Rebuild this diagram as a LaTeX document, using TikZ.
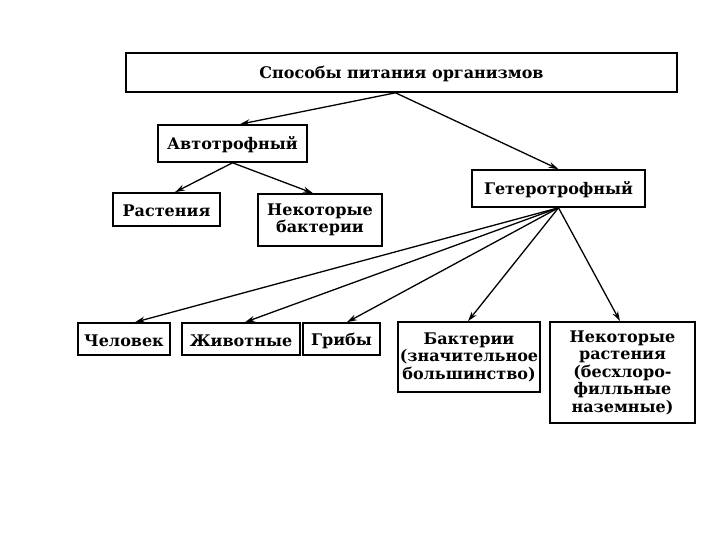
\documentclass[tikz,border=0pt]{standalone}
\usepackage{fontspec}
\setmainfont{DejaVu Serif}
\usetikzlibrary{arrows.meta,calc}
\newcommand\boxstrut{\rule[-1bp]{0pt}{16.5bp}}
\begin{document}
\begin{tikzpicture}[x=1bp,y=-1bp,
  box/.style={draw, line width=1.6bp, rectangle, inner sep=0pt, align=center,
    font=\bfseries\fontsize{16bp}{17.5bp}\selectfont,
    execute at begin node=\boxstrut, execute at end node=\boxstrut},
  arr/.style={-{Stealth[length=10bp,width=6bp]}, line width=1.3bp}]
\useasboundingbox (0,0) rectangle (720,540);
\node[box, minimum width=551bp, minimum height=39bp] (top) at (401.5,72.5) {Способы питания организмов};
\node[box, minimum width=149bp, minimum height=37bp] (auto) at (232.5,143.5) {Автотрофный};
\node[box, minimum width=173bp, minimum height=37bp] (het) at (558.5,188.5) {Гетеротрофный};
\node[box, minimum width=107bp, minimum height=33bp] (rast) at (166.5,209.5) {Растения};
\node[box, minimum width=124bp, minimum height=52bp] (nbakt) at (320,220) {Некоторые\\бактерии};
\node[box, minimum width=92bp, minimum height=32bp] (chel) at (124,339) {Человек};
\node[box, minimum width=118bp, minimum height=32bp] (zhiv) at (241,339) {Животные};
\node[box, minimum width=77bp, minimum height=32bp] (grib) at (341.5,339) {Грибы};
\node[box, minimum width=142bp, minimum height=70bp] (bakt) at (469,357) {Бактерии\\(значительное\\большинство)};
\node[box, minimum width=145bp, minimum height=101bp] (nrast) at (622.5,372.5) {Некоторые\\растения\\(бесхлоро-\\филльные\\наземные)};
\draw[arr] ([xshift=-6bp]top.south) -- ([xshift=7.5bp]auto.north);
\draw[arr] ([xshift=-6bp]top.south) -- (het.north);
\draw[arr] (auto.south) -- ([xshift=8.5bp]rast.north);
\draw[arr] (auto.south) -- ([xshift=-7bp]nbakt.north);
\draw[arr] (het.south) -- ([xshift=11bp]chel.north);
\draw[arr] (het.south) -- ([xshift=4bp]zhiv.north);
\draw[arr] (het.south) -- ([xshift=5.5bp]grib.north);
\draw[arr] (het.south) -- ([xshift=-1bp]bakt.north);
\draw[arr] (het.south) -- ([xshift=-2.5bp]nrast.north);
\end{tikzpicture}
\end{document}
